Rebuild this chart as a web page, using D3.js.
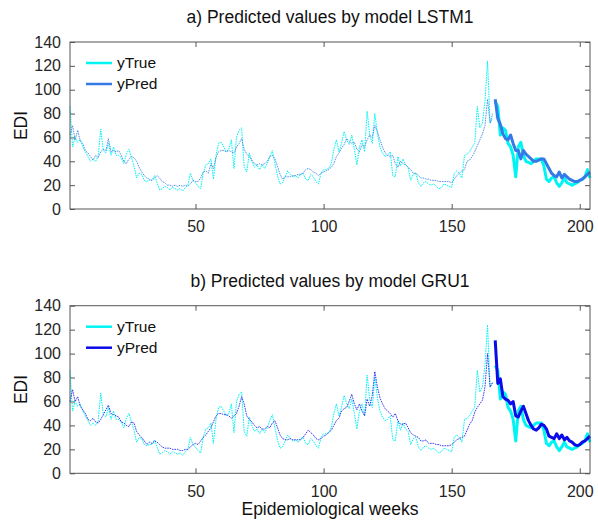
<!DOCTYPE html>
<html>
<head>
<meta charset="utf-8">
<script src="https://cdn.jsdelivr.net/npm/d3@7"></script>
<style>
    body { margin: 0; background: #fff; }
    svg { display: block; font-family: "Liberation Sans", Arial, sans-serif; }
</style>
</head>
<body>
<svg id="chart" width="598" height="520"></svg>
<script>
// observed EDI per epidemiological week (same in both panels)
const yTrue = [
    86, 52, 60, 56, 58, 52, 48, 44, 40, 42,
    40, 44, 67, 49, 47, 55, 45, 52, 45, 45,
    43, 38, 46, 50, 43, 36, 26, 30, 29, 24,
    23, 24, 24, 28, 22, 16, 17, 19, 18, 16,
    18, 17, 16, 17, 15, 18, 20, 30, 24, 22,
    19, 17, 30, 37, 38, 42, 25, 45, 55, 56,
    52, 48, 50, 58, 34, 60, 66, 68, 35, 31,
    47, 40, 35, 37, 33, 37, 34, 38, 44, 49,
    38, 28, 21, 22, 27, 32, 29, 27, 28, 26,
    29, 30, 25, 24, 29, 27, 23, 21, 30, 33,
    33, 34, 38, 50, 58, 48, 55, 65, 58, 54,
    62, 50, 37, 52, 58, 48, 82, 62, 55, 80,
    63, 52, 47, 44, 45, 48, 28, 27, 44, 36,
    42, 37, 35, 24, 29, 30, 22, 19, 22, 23,
    21, 20, 21, 19, 17, 18, 21, 20, 19, 18,
    30, 32, 30, 26, 45, 46, 48, 52, 55, 86,
    68, 72, 90, 124, 72, 76, 90, 86, 62, 68,
    66, 55, 52, 45, 27, 52, 56, 45, 40, 39,
    38, 40, 42, 42, 42, 36, 25, 23, 26, 27,
    22, 19, 22, 26, 22, 21, 20, 21, 22, 24,
    25, 27, 33, 26
];

const predLSTM = [
    62, 70, 58, 66, 57, 55, 49, 47, 44, 41,
    45, 43, 48, 50, 49, 59, 48, 49, 48, 49,
    45, 40, 38, 42, 44, 43, 40, 35, 31, 28,
    26, 25, 24, 26, 28, 26, 23, 22, 20, 20,
    19, 20, 19, 20, 19, 20, 19, 21, 24, 23,
    23, 26, 31, 32, 30, 38, 34, 43, 48, 49,
    49, 48, 49, 48, 47, 52, 55, 59, 50, 46,
    44, 41, 38, 37, 38, 37, 38, 40, 44, 45,
    42, 36, 29, 25, 27, 27, 27, 28, 28, 29,
    29, 30, 33, 34, 33, 31, 30, 28, 30, 31,
    32, 33, 35, 38, 44, 47, 51, 54, 59, 57,
    55, 56, 50, 48, 54, 52, 58, 62, 60, 70,
    65, 58, 52, 47, 45, 44, 45, 38, 35, 40,
    38, 37, 35, 33, 30, 30, 28, 26, 26, 25,
    25, 24, 24, 24, 23, 23, 23, 23, 23, 22,
    25, 28, 30, 32, 33, 40, 41, 44, 48, 53,
    58, 63, 70, 92, 72, 80, 92, 76, 71, 63,
    59, 58, 62, 55, 49, 49, 42, 49, 46, 44,
    42, 40, 40, 41, 42, 42, 38, 34, 30, 28,
    27, 31, 26, 29, 27, 25, 24, 23, 23, 24,
    25, 27, 29, 31
];

const predGRU = [
    60, 70, 60, 64, 56, 53, 50, 45, 44, 46,
    43, 42, 45, 49, 53, 57, 50, 49, 48, 47,
    43, 42, 40, 39, 43, 42, 35, 32, 30, 27,
    24, 26, 25, 27, 26, 24, 22, 21, 21, 21,
    20, 20, 20, 19, 19, 20, 20, 22, 24, 25,
    24, 27, 30, 32, 35, 38, 43, 48, 50, 50,
    49, 49, 48, 46, 48, 50, 56, 64, 58, 48,
    45, 43, 40, 38, 39, 37, 37, 39, 38, 42,
    44, 38, 32, 29, 28, 28, 29, 28, 28, 28,
    28, 30, 33, 36, 34, 32, 29, 28, 29, 31,
    32, 34, 36, 40, 44, 46, 52, 54, 55, 60,
    66, 58, 53, 58, 52, 48, 62, 56, 65, 85,
    72, 63, 58, 54, 52, 50, 47, 50, 44, 41,
    41, 42, 38, 34, 32, 31, 30, 27, 27, 28,
    25, 25, 25, 24, 24, 23, 23, 23, 23, 24,
    26, 28, 29, 30, 31, 36, 41, 44, 51, 55,
    58, 61, 72, 100, 72, 76, 111, 75, 79, 64,
    62, 61, 58, 60, 48, 47, 52, 56, 50, 44,
    40, 37, 36, 38, 41, 40, 37, 31, 30, 29,
    33, 29, 32, 28, 30, 27, 26, 24, 23, 24,
    26, 27, 29, 31
];

const testStart = 167;               // first week of the test period (solid lines)
const xTicks = [50, 100, 150, 200];
const yTicks = [0, 20, 40, 60, 80, 100, 120, 140];
const panelTitles = ["a) Predicted values by model LSTM1", "b) Predicted values by model GRU1"];
const legendLabels = ["yTrue", "yPred"];

const trueColor = "#00f4f4";
const predColors = ["#3579e6", "#0b0be8"];

const svg = d3.select("#chart");
const weeks = d3.range(1, yTrue.length + 1);
const left = 70, right = 590;

const x = d3.scaleLinear().domain([1, weeks.length]).range([left, right]);

function drawPanel(top, bottom, title, pred, predColor) {
    const y = d3.scaleLinear().domain([0, 140]).range([bottom, top]);
    const g = svg.append("g");

    // inward ticks on all four sides, labels only bottom/left
    const axisStyle = sel => {
        sel.select(".domain").remove();
        sel.selectAll(".tick line").attr("stroke", "#555");
        sel.selectAll(".tick text").attr("fill", "#262626").style("font-size", "16px");
    };
    g.append("g").attr("transform", `translate(0,${bottom})`)
        .call(d3.axisBottom(x).tickValues(xTicks).tickSizeInner(-5).tickSizeOuter(0).tickPadding(12))
        .call(axisStyle);
    g.append("g").attr("transform", `translate(0,${top})`)
        .call(d3.axisTop(x).tickValues(xTicks).tickSizeInner(-5).tickSizeOuter(0).tickFormat(""))
        .call(axisStyle);
    g.append("g").attr("transform", `translate(${left},0)`)
        .call(d3.axisLeft(y).tickValues(yTicks).tickSizeInner(-5).tickSizeOuter(0).tickPadding(9))
        .call(axisStyle);
    g.append("g").attr("transform", `translate(${right},0)`)
        .call(d3.axisRight(y).tickValues(yTicks).tickSizeInner(-5).tickSizeOuter(0).tickFormat(""))
        .call(axisStyle);

    const line = d3.line()
        .x(d => x(d.w))
        .y(d => y(d.v));

    const series = vals => weeks.map((w, i) => ({ w: w, v: vals[i] }));
    const trainPart = s => s.filter(d => d.w < testStart);
    const testPart = s => s.filter(d => d.w >= testStart);

    const t = series(yTrue), p = series(pred);

    // training period: thin dotted
    g.append("path").datum(trainPart(t)).attr("d", line)
        .attr("fill", "none").attr("stroke", trueColor).attr("stroke-width", 1)
        .attr("stroke-dasharray", "1.6,0.9");
    g.append("path").datum(trainPart(p)).attr("d", line)
        .attr("fill", "none").attr("stroke", predColor).attr("stroke-width", 1)
        .attr("stroke-opacity", 0.8).attr("stroke-dasharray", "1.6,0.9");

    // test period: thick solid
    g.append("path").datum(testPart(t)).attr("d", line)
        .attr("fill", "none").attr("stroke", trueColor).attr("stroke-width", 3)
        .attr("stroke-linejoin", "round");
    g.append("path").datum(testPart(p)).attr("d", line)
        .attr("fill", "none").attr("stroke", predColor).attr("stroke-width", 3)
        .attr("stroke-linejoin", "round");

    // frame
    g.append("rect")
        .attr("x", left).attr("y", top)
        .attr("width", right - left).attr("height", bottom - top)
        .attr("fill", "none").attr("stroke", "#555").attr("stroke-width", 1);

    // title and y label
    g.append("text")
        .attr("x", (left + right) / 2).attr("y", top - 19)
        .attr("text-anchor", "middle").attr("fill", "#111")
        .style("font-size", "17.5px")
        .text(title);
    g.append("text")
        .attr("transform", `translate(27,${(top + bottom) / 2}) rotate(-90)`)
        .attr("text-anchor", "middle").attr("fill", "#111")
        .style("font-size", "17.5px")
        .text("EDI");

    // legend
    const legend = g.append("g").attr("transform", `translate(86,${top + 21})`);
    [trueColor, predColor].forEach((c, i) => {
        const row = legend.append("g").attr("transform", `translate(0,${i * 21})`);
        row.append("line").attr("x1", 0).attr("x2", 26)
            .attr("stroke", c).attr("stroke-width", 2.5);
        row.append("text").attr("x", 31).attr("dy", "0.35em")
            .attr("fill", "#111").style("font-size", "15.5px")
            .text(legendLabels[i]);
    });
}

drawPanel(42, 209, panelTitles[0], predLSTM, predColors[0]);
drawPanel(305.7, 473.3, panelTitles[1], predGRU, predColors[1]);

svg.append("text")
    .attr("x", (left + right) / 2).attr("y", 515)
    .attr("text-anchor", "middle").attr("fill", "#111")
    .style("font-size", "17.5px")
    .text("Epidemiological weeks");
</script>
</body>
</html>
